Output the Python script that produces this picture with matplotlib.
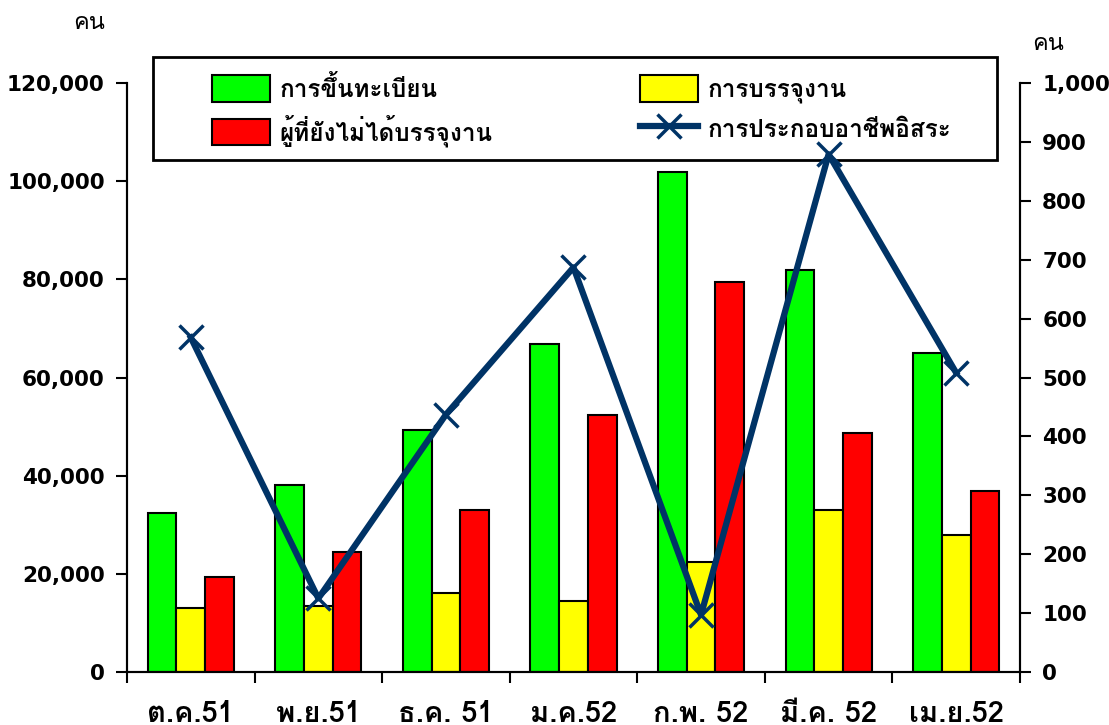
import numpy as np
import matplotlib
matplotlib.use("Agg")
import matplotlib.pyplot as plt
from matplotlib import font_manager, ft2font
from matplotlib.patches import Patch, Rectangle
from matplotlib.lines import Line2D

# ── Data ─────────────────────────────────────────────────────────────────────
months = ["ต.ค.51", "พ.ย.51", "ธ.ค. 51", "ม.ค.52", "ก.พ. 52", "มี.ค. 52", "เม.ย.52"]
registered = [32400, 38100, 49300, 66800, 101900, 81900, 65000]
placed = [13000, 13400, 16100, 14500, 22400, 33000, 27900]
not_placed = [19400, 24400, 33000, 52400, 79500, 48700, 36900]
self_employed = [568, 125, 437, 687, 97, 879, 508]

left_ticks = [0, 20000, 40000, 60000, 80000, 100000, 120000]
right_ticks = [0, 100, 200, 300, 400, 500, 600, 700, 800, 900, 1000]

labels = ["การขึ้นทะเบียน", "ผู้ที่ยังไม่ได้บรรจุงาน", "การบรรจุงาน", "การประกอบอาชีพอิสระ"]


# ── Font with Thai glyphs, if any is installed ──────────────────────────────
def find_thai_font():
    names = []
    for f in font_manager.fontManager.ttflist:
        try:
            if 0x0E01 in ft2font.FT2Font(f.fname).get_charmap():
                names.append(f.name)
        except Exception:
            pass
    return names


thai = find_thai_font()
family = (thai[:1] if thai else []) + ["DejaVu Sans"]
plt.rcParams["font.family"] = family

# ── Plot ─────────────────────────────────────────────────────────────────────
fig = plt.figure(figsize=(11.09, 7.25), dpi=100)
ax = fig.add_axes([0.1145, 0.0731, 0.8052, 0.8124])
ax2 = ax.twinx()

x = np.arange(len(months))
w = 0.225
ax.bar(x - w, registered, w, color="#00ff00", edgecolor="black", linewidth=1.5, zorder=2)
ax.bar(x, placed, w, color="#ffff00", edgecolor="black", linewidth=1.5, zorder=2)
ax.bar(x + w, not_placed, w, color="#ff0000", edgecolor="black", linewidth=1.5, zorder=2)

ax2.plot(x, self_employed, color="#003366", linewidth=4.5, marker="x",
         markersize=17, markeredgewidth=2.5, zorder=3, clip_on=False)

ax.set_xlim(-0.5, len(months) - 0.5)
ax.set_ylim(0, 120000)
ax2.set_ylim(0, 1000)

ax.set_yticks(left_ticks)
ax.set_yticklabels([f"{v:,}" for v in left_ticks], family="DejaVu Sans",
                   fontweight="bold", fontsize=15.5)
ax2.set_yticks(right_ticks)
ax2.set_yticklabels([f"{v:,}" for v in right_ticks], family="DejaVu Sans",
                    fontweight="bold", fontsize=15.5)

ax.set_xticks(np.arange(len(months) + 1) - 0.5)
ax.set_xticklabels([])
ax.set_xticks(x, minor=True)
ax.set_xticklabels(months, minor=True, fontweight="bold", fontsize=21)
ax.tick_params(axis="x", which="major", length=8, width=1.5, direction="out")
ax.tick_params(axis="x", which="minor", length=0, pad=20)
ax.tick_params(axis="y", length=8, width=1.5, pad=8)
ax2.tick_params(axis="y", length=8, width=1.5, pad=8)

for a in (ax, ax2):
    a.spines["top"].set_visible(False)
    for s in ("left", "right", "bottom"):
        a.spines[s].set_linewidth(1.5)

fig.text(0.080, 0.969, "คน", fontsize=17, ha="center", va="center")
fig.text(0.945, 0.940, "คน", fontsize=17, ha="center", va="center")

# legend frame drawn separately (under the line) so the entries sit inside it
ax2.add_patch(Rectangle((0.138, 0.779), 0.761, 0.142, transform=fig.transFigure,
                        facecolor="white", edgecolor="black", linewidth=2,
                        clip_on=False, zorder=1))

handles = [
    Patch(facecolor="#00ff00", edgecolor="black", linewidth=1.5),
    Patch(facecolor="#ff0000", edgecolor="black", linewidth=1.5),
    Patch(facecolor="#ffff00", edgecolor="black", linewidth=1.5),
    Line2D([], [], color="#003366", linewidth=4.5, marker="x",
           markersize=17, markeredgewidth=2.5),
]
leg = ax2.legend(handles, labels, ncol=2, loc="upper left",
                 bbox_to_anchor=(0.191, 0.70, 0.667, 0.196),
                 bbox_transform=fig.transFigure, mode="expand",
                 frameon=False, prop={"weight": "bold", "size": 17.5},
                 handlelength=2.4, handleheight=1.3, handletextpad=0.4,
                 columnspacing=2, borderpad=0, labelspacing=0.5,
                 borderaxespad=0)
leg.set_zorder(1.5)

fig.savefig("out.png", dpi=100)
